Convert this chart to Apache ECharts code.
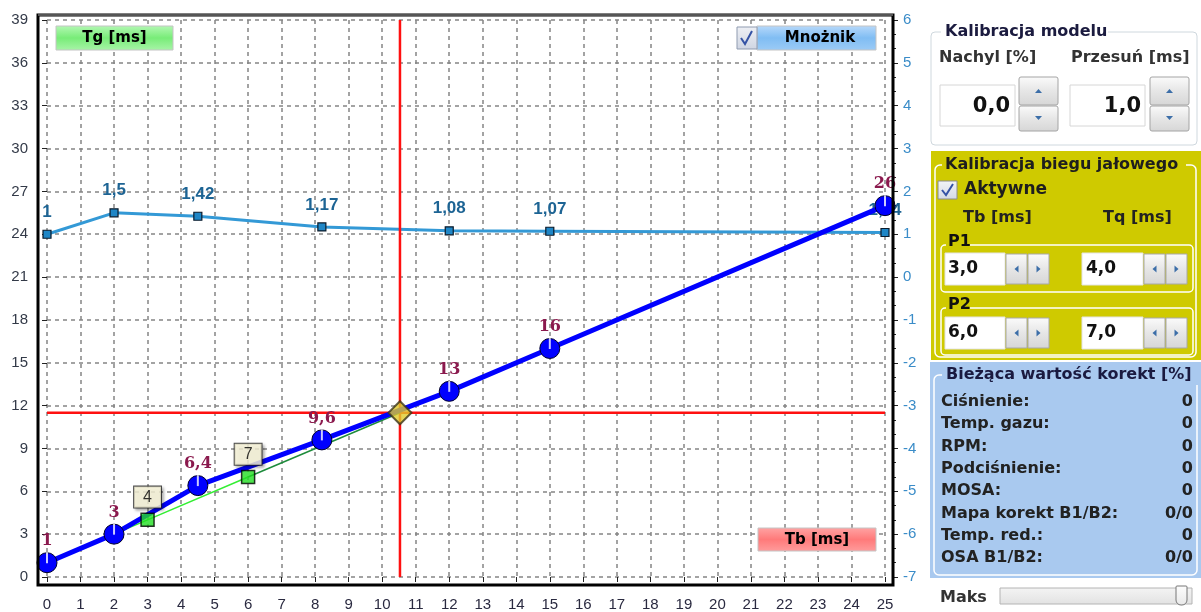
<!DOCTYPE html>
<html><head><meta charset="utf-8">
<script src="https://cdn.jsdelivr.net/npm/echarts@6/dist/echarts.min.js"></script>
<style>html,body{margin:0;padding:0;background:#fff;}#c{width:1201px;height:612px;}</style>
</head><body><div id="c"></div>
<script>
// ---- chart data ----
const xRange = [0, 25, 1];           // Tb [ms] axis: min, max, interval
const yLeftRange = [0, 39, 3];       // Tg [ms] axis
const yRightRange = [-7, 6, 1];      // Mnożnik axis
const tgModel = [[0,1],[2,3],[4.5,6.4],[8.2,9.6],[12,13],[15,16],[25,26]];
const multiplier = [[0,1],[2,1.5],[4.5,1.42],[8.2,1.17],[12,1.08],[15,1.07],[25,1.04]];
const idleLine = [[2,3],[3,4],[6,7]];
const idlePoints = [[3,4],[6,7]];
const crossPoint = [10.53, 11.5];
const idleExt = [[6,7],[10.53,11.5]];
// ---- panel texts ----
const modelHeaders = ['Nachyl [%]', 'Przesuń [ms]'];
const modelValues = ['0,0', '1,0'];
const idleHeaders = ['Tb [ms]', 'Tq [ms]'];
const idleP1 = ['3,0', '4,0'];
const idleP2 = ['6,0', '7,0'];
const corrLabels = ['Ciśnienie:', 'Temp. gazu:', 'RPM:', 'Podciśnienie:', 'MOSA:', 'Mapa korekt B1/B2:', 'Temp. red.:', 'OSA B1/B2:'];
const corrValues = ['0', '0', '0', '0', '0', '0/0', '0', '0/0'];

const fmt = v => String(v).replace('.', ',');
const FONT = '"DejaVu Sans"';
const LG = (stops) => new echarts.graphic.LinearGradient(0,0,0,1, stops.map((c,i)=>({offset:i/(stops.length-1), color:c})));

function T(x,y,text,o){o=o||{};const a=o.align||'left';return {type:'text',z:o.z||120,style:{x:x,y:y,text:text,fill:o.fill||'#222',font:o.font||('bold 16px '+FONT),align:a,textAlign:a,verticalAlign:'middle',textVerticalAlign:'middle'}};}
function R(x,y,w,h,fill,stroke,o){o=o||{};return {type:'rect',z:o.z||100,shape:{x:x,y:y,width:w,height:h,r:o.r||0},style:{fill:fill||'none',stroke:stroke||'none',lineWidth:o.lw||1}};}
function P(points,fill,z){return {type:'polygon',z:z||121,shape:{points:points},style:{fill:fill}};}
function L(points,stroke,w,z){return {type:'polyline',z:z||121,shape:{points:points},style:{stroke:stroke,lineWidth:w,fill:'none'}};}

const btnGrad = () => LG(['#fbfbfb','#e6e6e6','#d6d6d6']);
const g = [];
// frame
g.push(R(38,15,855,570,null,'#000',{lw:3,z:90}));
g.push(L([[38,15],[893,15]],'#555',2,91));
// legend-like boxes in plot
g.push(R(56,26,117,24,LG(['#b4f8b4','#78ec78','#a8f4a8']),'#c4c4c4'));
g.push(T(114.5,38,'Tg [ms]',{align:'center',fill:'#000',font:'bold 15px '+FONT}));
g.push(R(757,26,119,24,LG(['#b8d9fa','#80bdf3','#9ccbf6']),'#c4c4c4'));
g.push(R(737,27,20,22,LG(['#eef0f5','#cfd5e2']),'#8f9bb0'));
g.push(L([[741,38],[745,44],[752,31]],'#3553a5',2));
g.push(T(820,38,'Mnożnik',{align:'center',fill:'#000',font:'bold 15px '+FONT}));
g.push(R(758,528,118,23,LG(['#ffa4a4','#ff7a7a','#ff9c9c']),'#c4c4c4'));
g.push(T(817,540,'Tb [ms]',{align:'center',fill:'#000',font:'bold 15px '+FONT}));

// ---- right panel 1 ----
g.push(R(931,32,266,113,'#fff','#cfd8de',{r:4}));
g.push(R(941,23,167,18,'#fff',null,{z:101}));
g.push(T(945,32,'Kalibracja modelu',{fill:'#1b1b3f'}));
g.push(T(939,58,modelHeaders[0],{fill:'#333'}));
g.push(T(1071,58,modelHeaders[1],{fill:'#333'}));
[[940,1010,1019],[1070,1141,1150]].forEach((c,i)=>{
  g.push(R(c[0],85,75,41,'#fff','#d6d6d6'));
  g.push(T(c[1],107,modelValues[i],{align:'right',fill:'#111',font:'bold 21px '+FONT}));
  g.push(R(c[2],77,39,28,btnGrad(),'#a4a4a4',{r:2}));
  g.push(R(c[2],106,39,25,btnGrad(),'#a4a4a4',{r:2}));
  const cx=c[2]+19.5;
  g.push(P([[cx-3.5,93],[cx+3.5,93],[cx,89]],'#3c6ea8'));
  g.push(P([[cx-3.5,116],[cx+3.5,116],[cx,120]],'#3c6ea8'));
});

// ---- right panel 2 (yellow) ----
const YEL='#cfca00';
g.push(R(931,151,270,209,YEL,null,{z:99}));
g.push(R(935,165,261,192,null,'#fff',{r:5,lw:1.5}));
g.push(R(942,155,244,20,YEL,null,{z:101}));
g.push(T(945,165,'Kalibracja biegu jałowego',{fill:'#1e1e1e'}));
g.push(R(938,181,19,18,LG(['#f2f4f8','#d4d9e4']),'#8c8c8c'));
g.push(L([[942,190],[946,195],[953,184]],'#3553a5',2));
g.push(T(964,190,'Aktywne',{fill:'#1e1e1e',font:'bold 17px '+FONT}));
g.push(T(963,218,idleHeaders[0],{fill:'#222'}));
g.push(T(1103,218,idleHeaders[1],{fill:'#222'}));
[[245,253,269,'P1',idleP1],[308,317,333,'P2',idleP2]].forEach(r=>{
  g.push(R(941,r[0],252,47,null,'#fff',{r:4,lw:1.5}));
  g.push(R(946,r[0]-9,24,16,YEL,null,{z:101}));
  g.push(T(948,r[0]-3,r[3],{fill:'#111'}));
  [[945,60,948,1006],[1082,61,1086,1144]].forEach((c,i)=>{
    g.push(R(c[0],r[1],c[1],32,'#fff','#e4e4e4'));
    g.push(T(c[2],r[2],r[4][i],{fill:'#111',font:'bold 17px '+FONT}));
    g.push(R(c[3],r[1]+1,21,30,btnGrad(),'#a8a8a8'));
    g.push(R(c[3]+22,r[1]+1,21,30,btnGrad(),'#a8a8a8'));
    const cy=r[2];
    g.push(P([[c[3]+12.5,cy-3.5],[c[3]+12.5,cy+3.5],[c[3]+8.5,cy]],'#3c6ea8'));
    g.push(P([[c[3]+30.5,cy-3.5],[c[3]+30.5,cy+3.5],[c[3]+34.5,cy]],'#3c6ea8'));
  });
});

// ---- right panel 3 (blue) ----
const BLU='#a9c9ef';
g.push(R(930,362,271,216,BLU,null,{z:99}));
g.push(R(934,375,263,200,null,'#fff',{r:5,lw:1.5}));
g.push(R(942,366,259,19,BLU,null,{z:101}));
g.push(T(946,375,'Bieżąca wartość korekt [%]',{fill:'#1a1a40'}));
corrLabels.forEach((s,i)=>{
  const y=402+i*22.3;
  g.push(T(941,y,s,{fill:'#222'}));
  g.push(T(1193,y,corrValues[i],{align:'right',fill:'#222'}));
});
g.push(T(940,598,'Maks',{fill:'#333'}));
g.push(R(1000,588,192,16,LG(['#f4f4f4','#e2e2e2']),'#b4b4b4'));
g.push(R(1176,586,11,19,LG(['#fdfdfd','#e8e8e8']),'#777',{r:[1,1,5,5],z:102}));

const AXF = 'Liberation Sans';
const chart = echarts.init(document.getElementById('c'), null, {renderer:'canvas'});
chart.setOption({
  animation:false,
  backgroundColor:'#fff',
  grid:{left:47,right:316,top:20,bottom:34,containLabel:false},
  xAxis:{type:'value',min:xRange[0],max:xRange[1],interval:xRange[2],offset:7,
    axisLine:{show:false},
    axisTick:{show:true,length:5,lineStyle:{color:'#222',width:1}},
    axisLabel:{color:'#2a2a40',fontSize:15,fontFamily:AXF,margin:13},
    splitLine:{show:true,lineStyle:{color:'#858585',type:[4,4],width:1.5}}},
  yAxis:[
    {type:'value',position:'left',min:yLeftRange[0],max:yLeftRange[1],interval:yLeftRange[2],offset:9,
      axisLine:{show:false},
      axisTick:{show:true,length:5,lineStyle:{color:'#222'}},
      axisLabel:{color:'#333a48',fontSize:15,fontFamily:AXF,margin:10},
      splitLine:{show:true,lineStyle:{color:'#858585',type:[4,4],width:1.5}}},
    {type:'value',position:'right',min:yRightRange[0],max:yRightRange[1],interval:yRightRange[2],offset:8,
      axisLine:{show:false},
      axisTick:{show:true,length:5,lineStyle:{color:'#222'}},
      minorTick:{show:true,splitNumber:3,length:3,lineStyle:{color:'#222'}},
      axisLabel:{color:'#3a8cc8',fontSize:15,fontFamily:AXF,margin:10},
      splitLine:{show:false}}
  ],
  series:[
    {type:'line',name:'Mnożnik',yAxisIndex:1,data:multiplier,z:3,clip:false,
      lineStyle:{color:'#3399d6',width:3},symbol:'rect',symbolSize:8,
      itemStyle:{color:'#1f86c6',borderColor:'#0a1a2a',borderWidth:1.2},
      label:{show:true,position:'top',distance:9,color:'#1d6494',fontWeight:'bold',fontSize:17,fontFamily:AXF,formatter:p=>fmt(p.value[1])}},
    {type:'line',name:'crossV',data:[[crossPoint[0],yLeftRange[0]],[crossPoint[0],yLeftRange[1]]],z:3,clip:false,
      symbol:'none',lineStyle:{color:'#ff1010',width:2.5}},
    {type:'line',name:'crossH',data:[[xRange[0],crossPoint[1]],[xRange[1],crossPoint[1]]],z:3,clip:false,
      symbol:'none',lineStyle:{color:'#ff1010',width:2.5}},
    {type:'line',name:'idle',data:idleLine,z:4,clip:false,symbol:'none',lineStyle:{color:'#33ee33',width:1.5}},
    {type:'line',name:'idleExt',data:idleExt,z:4,clip:false,symbol:'none',lineStyle:{color:'#1e8c3c',width:1.5}},
    {type:'line',name:'Tg',data:tgModel,z:5,clip:false,
      lineStyle:{color:'#0000ff',width:5},symbol:'circle',symbolSize:20,
      itemStyle:{color:'#0000ff',borderColor:'#00002a',borderWidth:1},
      label:{show:true,position:'top',distance:3,color:'#8b1a4e',fontWeight:'bold',fontSize:16,fontFamily:'DejaVu Serif',formatter:p=>fmt(p.value[1])}},
    {type:'scatter',name:'pins',data:tgModel,z:6,clip:false,silent:true,symbol:'rect',symbolSize:[2,11],symbolOffset:[0,-5],
      itemStyle:{color:'#ffffff'}},
    {type:'scatter',name:'P',data:idlePoints,z:7,clip:false,symbol:'rect',symbolSize:13,
      itemStyle:{color:'#22dd22',borderColor:'#000',borderWidth:1.5},
      label:{show:true,position:'top',distance:5,formatter:p=>fmt(p.value[1]),color:'#000',fontSize:16,fontFamily:AXF,
        backgroundColor:'#fdf9dc',borderColor:'#222',borderWidth:1,padding:[3,9,2,9],
        shadowBlur:3,shadowOffsetX:2,shadowOffsetY:2,shadowColor:'rgba(0,0,0,0.35)'}},
    {type:'scatter',name:'cross',data:[crossPoint],z:8,clip:false,symbol:'diamond',symbolSize:23,
      itemStyle:{color:'#dfca2c',borderColor:'#3a3418',borderWidth:2}}
  ],
  graphic:{elements:g}
});
</script></body></html>
